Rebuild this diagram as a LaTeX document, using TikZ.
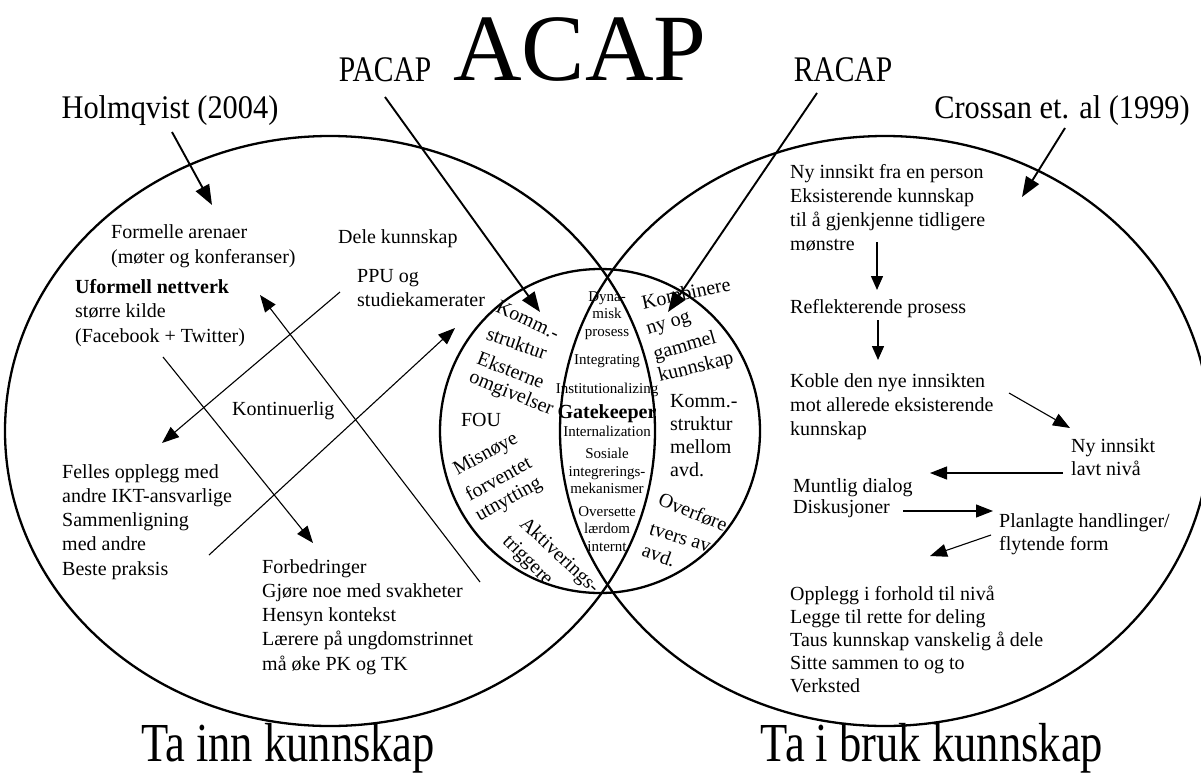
\documentclass[tikz,border=0pt]{standalone}
\usepackage{fontspec}
\setmainfont{Liberation Serif}
\usetikzlibrary{arrows.meta}

\tikzset{
  txt/.style={inner sep=0pt, font=\fontsize{20}{24.3}\selectfont, align=left, anchor=north west},
  mid/.style={inner sep=0pt, font=\fontsize{20}{24}\selectfont, anchor=center},
  lens/.style={inner sep=0pt, font=\fontsize{15}{17.5}\selectfont, align=center, anchor=north},
  big/.style={inner sep=0pt, anchor=base},
  ring/.style={line width=2.3pt},
  heavy/.style={line width=1.9pt, -{Triangle[length=20pt,width=15pt]}},
  thin/.style={line width=1.1pt, -{Triangle[length=17pt,width=13pt]}},
  flow/.style={line width=1.4pt, -{Triangle[length=14pt,width=12pt]}},
}

\begin{document}
\begin{tikzpicture}[x=1pt,y=-1pt]
\useasboundingbox (0,0) rectangle (1201,774);

% the two large sets and the small overlap ring
\draw[ring] (330,431) ellipse [x radius=325, y radius=295];
\draw[ring] (885,431) ellipse [x radius=325, y radius=295];
\draw[ring] (600,431) ellipse [x radius=160, y radius=162];

% headings (condensed type for the side labels)
\node[big, font=\fontsize{95}{95}\selectfont] (acap) at (580,80) {ACAP};
\node[big, font=\fontsize{36}{36}\selectfont, xscale=0.82] (pacap) at (385,81) {PACAP};
\node[big, font=\fontsize{36}{36}\selectfont, xscale=0.82] (racap) at (843,81) {RACAP};
\node[big, font=\fontsize{33}{33}\selectfont, xscale=0.92] (holm) at (170,118) {Holmqvist (2004)};
\node[big, font=\fontsize{33}{33}\selectfont, xscale=0.92] (cross) at (1062,118) {Crossan et. al (1999)};
\node[big, font=\fontsize{55}{55}\selectfont, xscale=0.81] (tainn) at (288,761) {Ta inn kunnskap};
\node[big, font=\fontsize{55}{55}\selectfont, xscale=0.81] (tabruk) at (932,761) {Ta i bruk kunnskap};

% left set
\node[txt, font=\fontsize{20}{25}\selectfont] (formelle) at (111,224) {Formelle arenaer\\(møter og konferanser)};
\node[txt, font=\fontsize{20}{24.5}\selectfont] (uformell) at (75,279) {\textbf{Uformell nettverk}\\større kilde\\(Facebook + Twitter)};
\node[txt] (dele) at (338,229) {Dele kunnskap};
\node[txt, font=\fontsize{20}{24}\selectfont] (ppu) at (357,269) {PPU og\\studiekamerater};
\node[txt] (kont) at (232,401) {Kontinuerlig};
\node[txt] (felles) at (62,464) {Felles opplegg med\\andre IKT-ansvarlige\\Sammenligning\\med andre\\Beste praksis};
\node[txt] (forbed) at (262,559) {Forbedringer\\Gjøre noe med svakheter\\Hensyn kontekst\\Lærere på ungdomstrinnet\\må øke PK og TK};

% right set
\node[txt, font=\fontsize{20}{24}\selectfont] (nyinn) at (790,164) {Ny innsikt fra en person\\Eksisterende kunnskap\\til å gjenkjenne tidligere\\mønstre};
\node[txt] (refl) at (790,299) {Reflekterende prosess};
\node[txt, font=\fontsize{20}{24}\selectfont] (koble) at (790,373) {Koble den nye innsikten\\mot allerede eksisterende\\kunnskap};
\node[txt, font=\fontsize{20}{23}\selectfont] (lavt) at (1071,438) {Ny innsikt\\lavt nivå};
\node[txt, font=\fontsize{20}{21.5}\selectfont] (muntlig) at (793,478) {Muntlig dialog\\Diskusjoner};
\node[txt, font=\fontsize{20}{23}\selectfont] (planl) at (999,513) {Planlagte handlinger/\\flytende form};
\node[txt, font=\fontsize{20}{23}\selectfont] (oppl) at (790,586) {Opplegg i forhold til nivå\\Legge til rette for deling\\Taus kunnskap vanskelig å dele\\Sitte sammen to og to\\Verksted};

% small ring, left crescent
\node[mid, rotate=-25] (k1) at (528,320) {Komm.-};
\node[mid, rotate=-19] (k2) at (517,343) {struktur};
\node[mid, rotate=-21] (k3) at (511,370) {Eksterne};
\node[mid, rotate=-22] (k4) at (511,394) {omgivelser};
\node[mid] (fou) at (481,420) {FOU};
\node[mid, rotate=29] (m1) at (486,455) {Misnøye};
\node[mid, rotate=29] (m2) at (498,478) {forventet};
\node[mid, rotate=29] (m3) at (509,500) {utnytting};
\node[mid, rotate=-43] (a1) at (559,556) {Aktiverings-};
\node[mid, rotate=-45] (a2) at (527,561) {triggere};

% small ring, lens
\node[lens] (dyn) at (607,291) {Dyna-\\misk\\prosess};
\node[lens] (integ) at (607,354) {Integrating};
\node[lens] (inst) at (607,383) {Institutionalizing};
\node[lens, font=\bfseries\fontsize{20}{20}\selectfont] (gate) at (607,404) {Gatekeeper};
\node[lens] (intern) at (607,426) {Internalization};
\node[lens] (sos) at (607,448) {Sosiale\\integrerings-\\mekanismer};
\node[lens] (overs) at (607,506) {Oversette\\lærdom\\internt};

% small ring, right crescent
\node[mid, rotate=12] (c1) at (686,293) {Kombinere};
\node[mid, rotate=17] (c2) at (669,325) {ny og};
\node[mid, rotate=16] (c3) at (685,347) {gammel};
\node[mid, rotate=14] (c4) at (696,368) {kunnskap};
\node[txt, font=\fontsize{20}{23}\selectfont] (komm2) at (670,394) {Komm.-\\struktur\\mellom\\avd.};
\node[mid, rotate=-22] (o1) at (693,512) {Overføre};
\node[mid, rotate=-17] (o2) at (680,538) {tvers av};
\node[mid, rotate=-20] (o3) at (659,555) {avd.};

% free arrow ends
\coordinate (hS) at (172,132);  \coordinate (hE) at (212,205);
\coordinate (pS) at (385,97);   \coordinate (pE) at (540,312);
\coordinate (rS) at (817,93);   \coordinate (rE) at (668,312);
\coordinate (cS) at (1065,128); \coordinate (cE) at (1022,197);
\coordinate (aS) at (340,292);  \coordinate (aE) at (162,443);
\coordinate (bS) at (163,357);  \coordinate (bE) at (313,543);
\coordinate (gS) at (209,555);  \coordinate (gE) at (455,328);
\coordinate (dS) at (480,582);  \coordinate (dE) at (260,295);
\coordinate (f1S) at (877,242); \coordinate (f1E) at (877,290);
\coordinate (f2S) at (878,320); \coordinate (f2E) at (878,360);
\coordinate (f3S) at (1009,393);\coordinate (f3E) at (1070,428);
\coordinate (f4S) at (1063,473);\coordinate (f4E) at (930,473);
\coordinate (f5S) at (903,511); \coordinate (f5E) at (993,511);
\coordinate (f6S) at (991,535); \coordinate (f6E) at (930,556);

% source pointers
\draw[heavy] (hS) -- (hE);
\draw[heavy] (pS) -- (pE);
\draw[heavy] (rS) -- (rE);
\draw[heavy] (cS) -- (cE);

% flows in the left set
\draw[thin] (aS) -- (aE);
\draw[thin] (bS) -- (bE);
\draw[thin] (gS) -- (gE);
\draw[thin] (dS) -- (dE);

% flows in the right set
\draw[flow] (f1S) -- (f1E);
\draw[flow] (f2S) -- (f2E);
\draw[thin] (f3S) -- (f3E);
\draw[thin] (f4S) -- (f4E);
\draw[thin] (f5S) -- (f5E);
\draw[thin] (f6S) -- (f6E);
\end{tikzpicture}
\end{document}
